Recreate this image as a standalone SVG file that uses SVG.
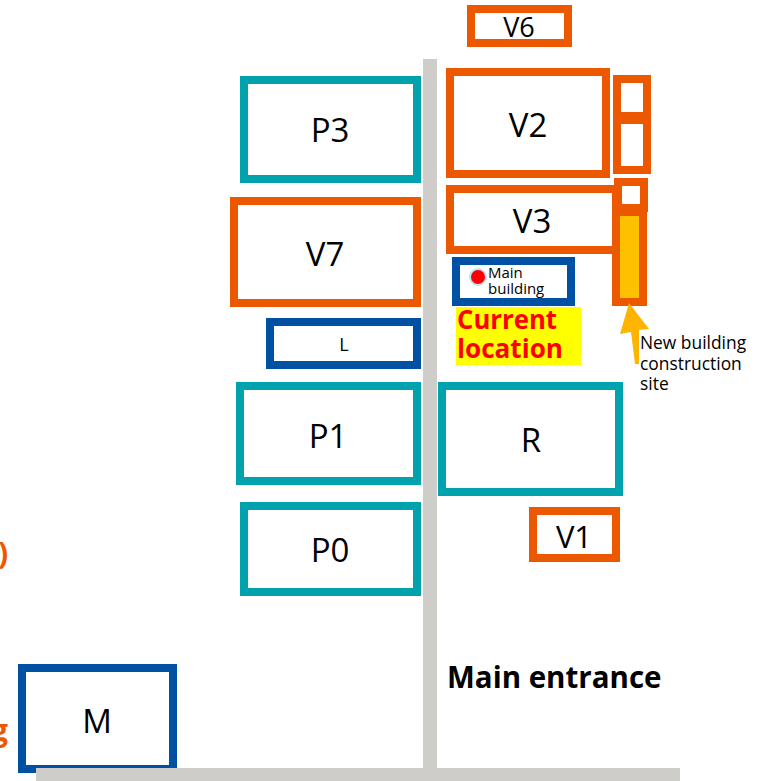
<svg xmlns="http://www.w3.org/2000/svg" width="758" height="781" viewBox="0 0 758 781">
<style>
text{font-family:"Open Sans","Noto Sans","Liberation Sans",sans-serif;fill:#000}
.b{fill:#fff;stroke-width:8}
.o{stroke:#ec5800}.t{stroke:#00a2ad}.n{stroke:#0050a4}
.l{font-size:33px;text-anchor:middle}
.s{font-size:17.4px}
.k{font-size:15px}
.c{font-size:27px;font-weight:700;fill:#f00}
.e{font-size:30px;font-weight:700;fill:#ec5800}
</style>
<rect width="758" height="781" fill="#fff"/>
<g id="connectors">
<rect x="423" y="59" width="14" height="709" fill="#cfcdc9"/>
</g>
<g id="M"><rect class="b n" x="22" y="668" width="151" height="101"/><text class="l" x="97" y="733">M</text></g>
<g id="roads"><rect x="36" y="768" width="644" height="13" fill="#cfcdc9"/></g>
<g id="V6"><rect class="b o" x="471" y="9" width="97" height="34"/><text class="l" x="519" y="37" style="font-size:27px">V6</text></g>
<g id="V2"><rect class="b o" x="450" y="72" width="156" height="102"/><text class="l" x="528" y="137">V2</text></g>
<g id="S1"><rect class="b o" x="617" y="79" width="30" height="37"/></g>
<g id="S2"><rect class="b o" x="617" y="120" width="30" height="50"/></g>
<g id="V3"><rect class="b o" x="450" y="189" width="166" height="61"/><text class="l" x="532" y="233">V3</text></g>
<g id="S3"><rect class="b o" x="618" y="182" width="26" height="26"/></g>
<g id="site"><rect x="616" y="212" width="27" height="90" fill="#ffc000" stroke="#ec5800" stroke-width="8"/></g>
<g id="main-building"><rect class="b n" x="456" y="261" width="115" height="41"/>
<circle cx="478" cy="277" r="9" fill="#bfe3f5"/><circle cx="478" cy="277" r="7" fill="#f00"/>
<text class="k"><tspan x="488" y="278">Main</tspan><tspan x="488" y="294">building</tspan></text></g>
<g id="current"><rect x="456" y="307" width="125" height="58" fill="#ff0"/>
<text class="c" x="457" y="329" textLength="100" lengthAdjust="spacingAndGlyphs">Current</text><text class="c" x="457" y="358" textLength="106" lengthAdjust="spacingAndGlyphs">location</text></g>
<g id="arrow"><polygon points="629,303 649,329 639,330 639,364 635,364 631,332 620,334" fill="#ffb400"/></g>
<text class="s"><tspan x="640" y="349">New building</tspan><tspan x="640" y="370">construction</tspan><tspan x="640" y="390">site</tspan></text>
<g id="P3"><rect class="b t" x="244" y="80" width="173" height="99"/><text class="l" x="330" y="142">P3</text></g>
<g id="V7"><rect class="b o" x="234" y="201" width="183" height="102"/><text class="l" x="325" y="266">V7</text></g>
<g id="L"><rect class="b n" x="270" y="322" width="147" height="43"/><text x="344" y="351" style="font-size:18px;text-anchor:middle">L</text></g>
<g id="P1"><rect class="b t" x="240" y="386" width="177" height="95"/><text class="l" x="328" y="448">P1</text></g>
<g id="R"><rect class="b t" x="442" y="386" width="177" height="106"/><text class="l" x="531" y="452">R</text></g>
<g id="P0"><rect class="b t" x="244" y="506" width="173" height="86"/><text class="l" x="330" y="562">P0</text></g>
<g id="V1"><rect class="b o" x="533" y="511" width="83" height="47"/><text class="l" x="574" y="548" style="font-size:31px">V1</text></g>
<text x="447" y="688" style="font-size:29.5px;font-weight:700">Main entrance</text>
<text class="e" x="-2" y="564">)</text>
<text class="e" x="-9" y="741">g</text>
</svg>
